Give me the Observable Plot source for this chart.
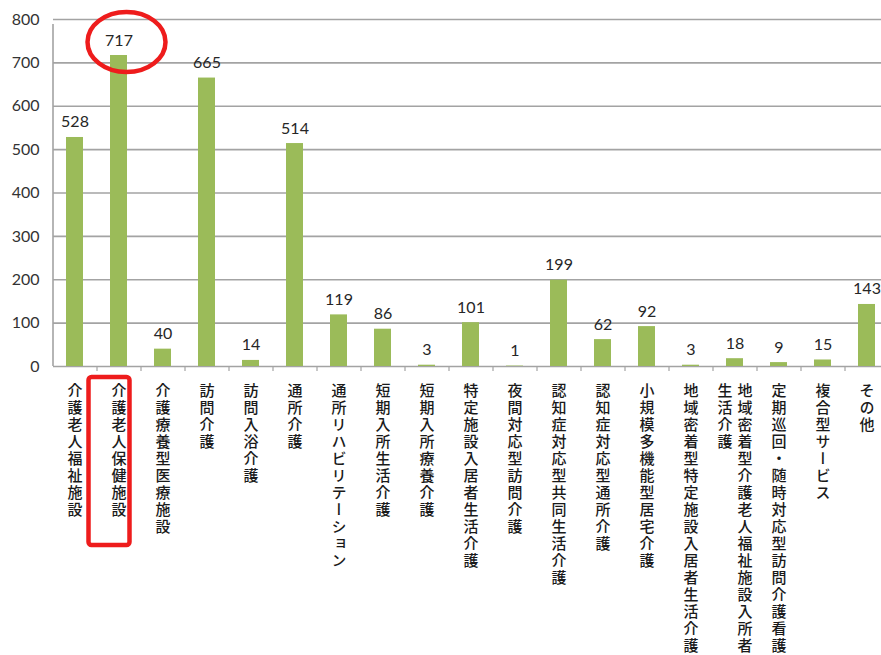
<!DOCTYPE html>
<html><head><meta charset="utf-8">
<script src="https://cdn.jsdelivr.net/npm/d3@7"></script>
<script src="https://cdn.jsdelivr.net/npm/@observablehq/plot@0.6"></script>
<style>
html,body{margin:0;padding:0;background:#fff;overflow:hidden;}
#chart svg{display:block;overflow:hidden;}
</style>
</head><body><div id="chart"></div>
<script>
// ---- data ----
const categories = [
  "介護老人福祉施設","介護老人保健施設","介護療養型医療施設","訪問介護","訪問入浴介護",
  "通所介護","通所リハビリテーション","短期入所生活介護","短期入所療養介護","特定施設入居者生活介護",
  "夜間対応型訪問介護","認知症対応型共同生活介護","認知症対応型通所介護","小規模多機能型居宅介護",
  "地域密着型特定施設入居者生活介護","地域密着型介護老人福祉施設入所者生活介護",
  "定期巡回・随時対応型訪問介護看護","複合型サービス","その他"
];
const values = [528,717,40,665,14,514,119,86,3,101,1,199,62,92,3,18,9,15,143];
const yTicks = [0,100,200,300,400,500,600,700,800];
const highlighted = "介護老人保健施設";
const maxCharsPerColumn = 16;

// ---- derived tables ----
const data = categories.map((c,i)=>({category:c, value:values[i]}));
const labelCols = [];
categories.forEach(c=>{
  const cols=[];
  for(let i=0;i<c.length;i+=maxCharsPerColumn) cols.push(c.slice(i,i+maxCharsPerColumn));
  cols.forEach((t,j)=>labelCols.push({category:c,text:t,col:j,ncols:cols.length}));
});

const W=881,H=655, ML=53, MR=-8;
const step=(W-ML-MR)/categories.length;
const green="#9bbb59", gridColor="#a3a3a3", textColor="#262626";
const numFont="Lato, 'Open Sans', sans-serif";
const jpFont="'Noto Sans CJK JP', sans-serif";

const labelBase = {x:"category", y:()=>0, text:"text", textAnchor:"start", dy:12,
  fontFamily:jpFont, fontSize:15, fontWeight:500, fill:"#1a1a1a", ariaDescription:"vlabel"};

const chart = Plot.plot({
  width:W, height:H,
  marginLeft:ML, marginRight:MR, marginTop:19, marginBottom:289,
  style:{background:"#fff", fontFamily:numFont, fontSize:"16px", color:"#333", overflow:"hidden"},
  x:{domain:categories, paddingInner:0.61, paddingOuter:0.305, axis:null},
  y:{domain:[0,800], ticks:yTicks, tickSize:0, tickPadding:14, label:null, tickFormat:d=>String(d)},
  marks:[
    Plot.ruleY(yTicks,{stroke:gridColor, strokeWidth:1.6}),
    // y axis line + category separator ticks
    Plot.ruleX([categories[0]],{x:d=>d, y1:0, y2:800, dx:-step/2, stroke:gridColor, strokeWidth:1.6, insetBottom:-5}),
    Plot.ruleX(categories.slice(1),{x:d=>d, y1:0, y2:0, dx:-step/2, stroke:gridColor, strokeWidth:1.2, insetBottom:-5}),
    Plot.barY(data,{x:"category", y:"value", fill:green}),
    Plot.text(data,{x:"category", y:"value", text:d=>String(d.value), lineAnchor:"bottom", dy:-10,
      fontFamily:numFont, fontSize:16, fill:textColor}),
    Plot.text(labelCols.filter(d=>d.ncols===1), labelBase),
    Plot.text(labelCols.filter(d=>d.ncols===2 && d.col===0), {...labelBase, dx:10}),
    Plot.text(labelCols.filter(d=>d.ncols===2 && d.col===1), {...labelBase, dx:-10})
  ]
});

// vertical writing for category labels
d3.select(chart).selectAll("g[aria-description=vlabel] text")
  .attr("dy", null)
  .style("writing-mode","vertical-rl")
  .style("letter-spacing","2px");

// red highlight annotations derived from scales
const xs = chart.scale("x"), ys = chart.scale("y");
const cx = xs.apply(highlighted) + xs.bandwidth/2;
const vHi = values[categories.indexOf(highlighted)];
const svg = d3.select(chart);
svg.append("ellipse")
  .attr("cx", cx + 8).attr("cy", ys.apply(vHi) - 13)
  .attr("rx", 39).attr("ry", 30)
  .attr("fill","none").attr("stroke","#ee1c1c").attr("stroke-width",4.5);
svg.append("rect")
  .attr("x", cx - 30).attr("y", ys.apply(0) + 11)
  .attr("width", 41).attr("height", 168).attr("rx", 3)
  .attr("fill","none").attr("stroke","#ee1c1c").attr("stroke-width",4.5);

document.getElementById("chart").appendChild(chart);
</script>
</body></html>
